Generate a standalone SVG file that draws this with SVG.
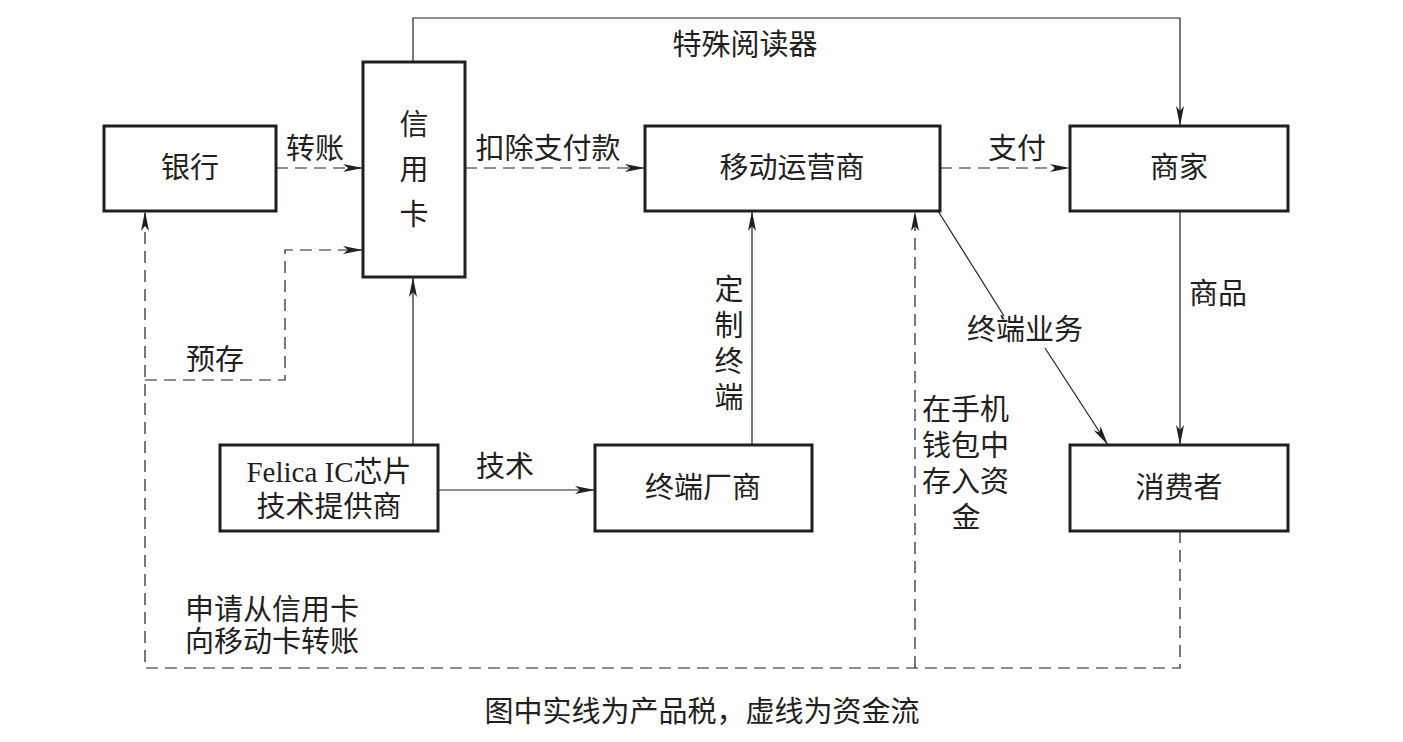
<svg xmlns="http://www.w3.org/2000/svg" width="1403" height="742" viewBox="0 0 1403 742">
<style>
.box{fill:#fff;stroke:#231f20;stroke-width:3}
.t{font-family:"Liberation Serif","Noto Sans CJK SC",serif;font-size:29px;fill:#231f20;text-anchor:middle;dominant-baseline:central}
.tl{font-family:"Liberation Serif","Noto Sans CJK SC",serif;font-size:29px;fill:#231f20;dominant-baseline:central}
.s{fill:none;stroke:#231f20;stroke-width:1.2}
.d{fill:none;stroke:#231f20;stroke-width:1.2;stroke-dasharray:12,7}
</style>
<defs>
<marker id="a" viewBox="0 0 20 10" refX="20" refY="5" markerWidth="20" markerHeight="10" markerUnits="userSpaceOnUse" orient="auto">
<path d="M0,1 L20,5 L0,9 L5,5 Z" fill="#231f20"/>
</marker>
</defs>
<rect width="1403" height="742" fill="#fff"/>
<g id="connectors">
<path class="s" d="M413,62 V18 H1180 V126" marker-end="url(#a)"/>
<path class="d" d="M276,168 H363" marker-end="url(#a)"/>
<path class="d" d="M465,168 H645" marker-end="url(#a)"/>
<path class="d" d="M940,168 H1070" marker-end="url(#a)"/>
<path class="s" d="M1180,211 V445" marker-end="url(#a)"/>
<path class="s" d="M938,211 L1004,316"/>
<path class="s" d="M1045,348 L1108,445" marker-end="url(#a)"/>
<path class="s" d="M752,445 V211" marker-end="url(#a)"/>
<path class="s" d="M413,445 V277" marker-end="url(#a)"/>
<path class="s" d="M438,490 H595" marker-end="url(#a)"/>
<path class="d" d="M1180,531 V668 H145 V211" marker-end="url(#a)"/>
<path class="d" d="M915,668 V211" marker-end="url(#a)"/>
<path class="d" d="M145,380 H285 V250 H363" marker-end="url(#a)"/>
</g>
<g id="bank"><rect class="box" x="104" y="126" width="172" height="85"/><text class="t" x="190" y="168">银行</text></g>
<g id="credit-card"><rect class="box" x="363" y="62" width="102" height="215"/><text class="t" x="414" y="125">信</text><text class="t" x="414" y="170">用</text><text class="t" x="414" y="215">卡</text></g>
<g id="mobile-operator"><rect class="box" x="645" y="126" width="295" height="85"/><text class="t" x="792" y="168">移动运营商</text></g>
<g id="merchant"><rect class="box" x="1070" y="126" width="218" height="85"/><text class="t" x="1179" y="168">商家</text></g>
<g id="consumer"><rect class="box" x="1070" y="445" width="218" height="86"/><text class="t" x="1179" y="488">消费者</text></g>
<g id="terminal-maker"><rect class="box" x="595" y="445" width="217" height="86"/><text class="t" x="703" y="488">终端厂商</text></g>
<g id="felica"><rect class="box" x="220" y="445" width="218" height="86"/><text class="t" x="329" y="472">Felica IC芯片</text><text class="t" x="329" y="507">技术提供商</text></g>
<g id="labels">
<text class="t" x="745" y="45">特殊阅读器</text>
<text class="t" x="315" y="149">转账</text>
<text class="t" x="548" y="149">扣除支付款</text>
<text class="t" x="1017" y="149">支付</text>
<text class="t" x="1218" y="294">商品</text>
<text class="t" x="1025" y="330">终端业务</text>
<text class="t" x="729" y="290">定</text><text class="t" x="729" y="326">制</text><text class="t" x="729" y="362">终</text><text class="t" x="729" y="398">端</text>
<text class="t" x="505" y="467">技术</text>
<text class="t" x="215" y="360">预存</text>
<text class="tl" x="922" y="410">在手机</text>
<text class="tl" x="922" y="446">钱包中</text>
<text class="tl" x="922" y="482">存入资</text>
<text class="t" x="966" y="518">金</text>
<text class="tl" x="185" y="610">申请从信用卡</text>
<text class="tl" x="185" y="642">向移动卡转账</text>
<text class="t" x="702" y="712">图中实线为产品税，虚线为资金流</text>
</g>
</svg>
